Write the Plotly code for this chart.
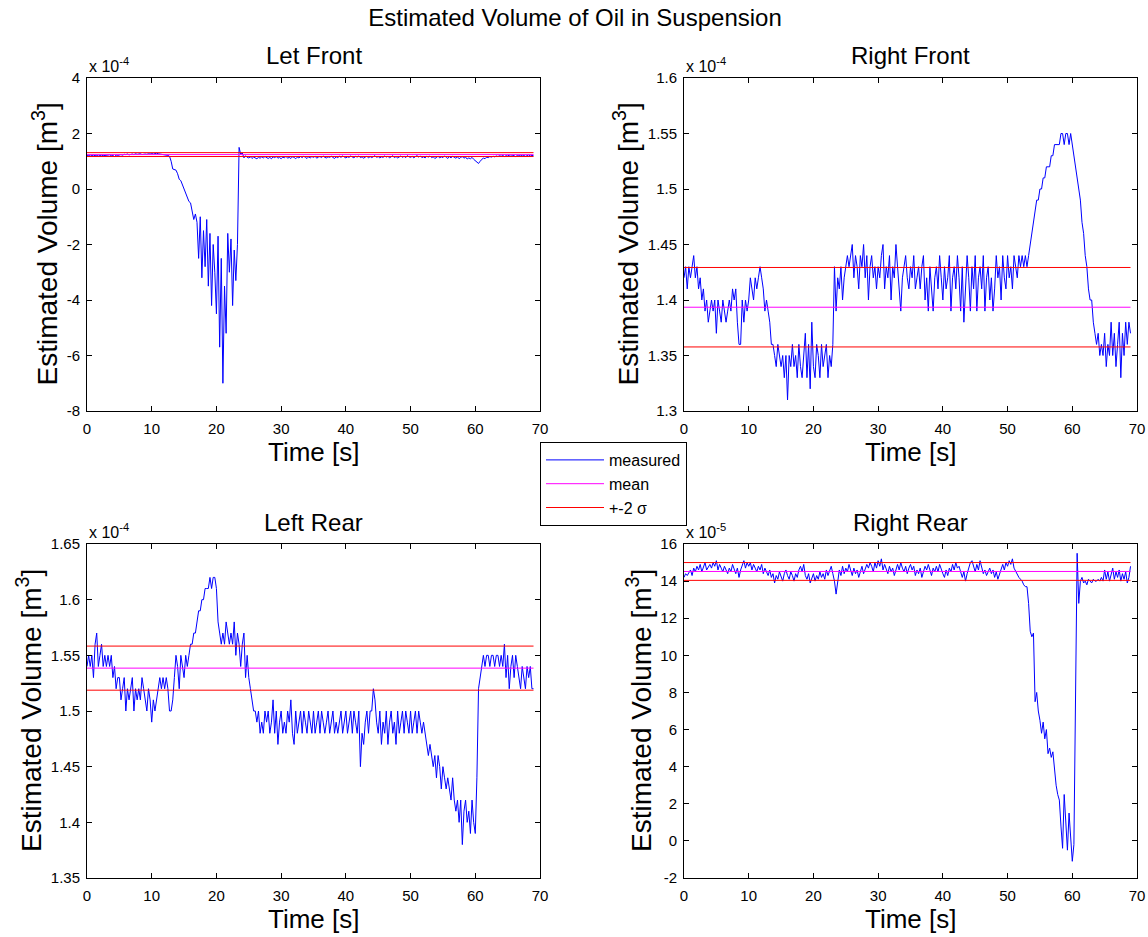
import plotly.graph_objects as go

SAMPLE_DT = 0.25  # seconds between logged samples

# estimated oil volume in each damper, in mL (1 mL = 1e-6 m^3), one value per sample
left_front_ml = [
    120, 121, 119, 121, 122, 120, 121, 119, 121, 122, 120, 121, 122, 121, 123, 120, 121, 117, 122, 121,
    123, 124, 122, 125, 124, 126, 123, 125, 126, 124, 127, 125, 125, 127, 124, 126, 126, 125, 127, 126,
    128, 126, 127, 129, 127, 126, 125, 124, 124, 122, 121, 118, 100, 72, 70, 68, 55, 35, 30, 15,
    5, -10, -30, -45, -50, -75, -110, -90, -120, -250, -100, -320, -150, -280, -110, -350, -160, -420, -200, -300,
    -450, -170, -570, -250, -700, -350, -520, -160, -300, -180, -420, -220, -330, -200, 150, 125, 130, 112, 120, 114,
    112, 116, 110, 115, 113, 109, 114, 111, 116, 112, 117, 113, 110, 114, 109, 116, 113, 117, 111, 114,
    109, 115, 112, 118, 111, 114, 110, 116, 114, 109, 115, 112, 117, 113, 118, 114, 110, 116, 112, 117,
    114, 118, 111, 115, 117, 113, 119, 114, 112, 116, 114, 118, 115, 110, 116, 113, 118, 114, 119, 115,
    112, 116, 114, 119, 116, 112, 118, 115, 119, 113, 116, 111, 115, 118, 112, 117, 113, 116, 120, 114,
    117, 112, 116, 114, 119, 115, 118, 112, 116, 120, 113, 117, 112, 116, 119, 114, 118, 113, 120, 116,
    114, 118, 112, 117, 120, 115, 119, 113, 116, 112, 118, 115, 119, 113, 116, 110, 115, 118, 112, 116,
    113, 119, 115, 110, 117, 112, 118, 114, 111, 116, 109, 114, 117, 111, 115, 108, 112, 109, 114, 107,
    103, 96, 92, 100, 106, 112, 109, 115, 113, 117, 115, 118, 116, 119, 117, 120, 118, 121, 117, 120,
    119, 122, 118, 121, 120, 117, 121, 119, 122, 119, 121, 118, 120, 123, 119, 121, 120,
]
right_front_ml = [
    142, 143, 141, 143, 142, 143, 144, 142, 143, 141, 142, 140, 141, 139, 140, 138, 139, 140, 139, 140,
    137, 140, 139, 138, 140, 139, 138, 139, 140, 139, 141, 140, 141, 138, 136, 136, 140, 138, 140, 139,
    140, 142, 141, 140, 142, 141, 142, 143, 142, 141, 139, 140, 139, 138, 136, 136, 135, 134, 136, 135,
    134, 135, 133, 135, 131, 135, 134, 136, 134, 135, 133, 136, 134, 133, 135, 137, 133, 136, 132, 138,
    134, 133, 136, 135, 133, 136, 134, 135, 136, 133, 135, 134, 136, 143, 139, 142, 141, 143, 140, 142,
    143, 144, 143, 144, 145, 142, 144, 143, 141, 144, 143, 145, 142, 144, 140, 143, 144, 142, 143, 141,
    143, 142, 144, 145, 141, 143, 142, 144, 140, 143, 142, 145, 143, 141, 139, 142, 143, 144, 142, 141,
    143, 142, 144, 141, 142, 143, 141, 143, 144, 140, 142, 139, 143, 141, 139, 142, 143, 141, 144, 142,
    140, 143, 141, 142, 144, 139, 142, 143, 141, 144, 142, 139, 143, 138, 141, 144, 142, 139, 143, 141,
    144, 139, 142, 143, 141, 144, 139, 142, 143, 140, 142, 139, 141, 144, 142, 143, 140, 144, 142, 141,
    144, 142, 143, 141, 144, 143, 142, 144, 143, 144, 143, 144, 143, 144, 145, 146, 147, 148, 149, 149,
    150, 150, 151, 151, 152, 152, 152, 153, 153, 154, 154, 154, 154, 155, 155, 154, 155, 155, 154, 155,
    154, 153, 152, 151, 150, 149, 147, 146, 144, 143, 141, 140, 140, 138, 137, 136, 137, 135, 136, 135,
    137, 134, 136, 135, 138, 135, 137, 134, 136, 138, 133, 137, 135, 138, 136, 138, 137,
]
left_rear_ml = [
    154, 155, 154, 155, 153, 156, 157, 154, 155, 156, 154, 155, 154, 155, 154, 155, 153, 154, 152, 153,
    153, 151, 152, 153, 150, 152, 151, 152, 153, 150, 152, 151, 152, 151, 153, 152, 151, 150, 152, 151,
    149, 151, 150, 151, 152, 153, 152, 153, 152, 153, 152, 150, 150, 151, 153, 155, 154, 152, 155, 154,
    153, 155, 154, 155, 156, 156, 157, 157, 158, 159, 159, 160, 160, 161, 161, 161, 162, 161, 162, 162,
    161, 158, 157, 156, 157, 156, 158, 157, 156, 157, 156, 158, 155, 157, 156, 154, 156, 157, 153, 155,
    153, 152, 151, 150, 150, 149, 150, 148, 149, 148, 150, 149, 150, 148, 149, 151, 148, 150, 147, 149,
    150, 148, 149, 148, 150, 149, 151, 148, 147, 150, 148, 149, 150, 148, 150, 149, 148, 150, 149, 148,
    150, 148, 149, 150, 148, 150, 149, 148, 149, 150, 148, 149, 150, 148, 149, 148, 149, 150, 148, 149,
    150, 148, 149, 150, 148, 150, 149, 148, 150, 145, 148, 147, 149, 150, 148, 150, 150, 152, 151, 149,
    148, 150, 147, 149, 148, 150, 147, 149, 150, 148, 149, 147, 150, 148, 149, 150, 148, 150, 149, 148,
    150, 148, 149, 150, 148, 150, 149, 148, 149, 148, 147, 146, 147, 146, 145, 146, 144, 146, 145, 143,
    145, 144, 143, 144, 143, 142, 144, 142, 141, 142, 140, 142, 138, 141, 142, 140, 141, 139, 142, 140,
    139, 144, 152, 153, 154, 155, 154, 155, 155, 154, 155, 155, 154, 155, 155, 154, 155, 154, 156, 153,
    155, 152, 154, 155, 153, 155, 154, 153, 152, 154, 153, 152, 154, 153, 154, 152, 152,
]
right_rear_ml = [
    142, 144, 143, 145, 146, 143, 147, 145, 148, 146, 149, 145, 147, 150, 146, 148, 149, 147, 150, 148,
    151, 146, 149, 147, 145, 148, 146, 144, 147, 145, 149, 146, 144, 147, 142, 146, 149, 151, 147, 150,
    148, 150, 146, 149, 147, 145, 148, 146, 149, 144, 147, 145, 143, 146, 142, 144, 139, 143, 141, 145,
    142, 140, 144, 146, 143, 141, 145, 143, 140, 144, 142, 146, 148, 145, 149, 143, 141, 144, 139, 142,
    144, 140, 143, 141, 145, 142, 144, 141, 146, 143, 145, 148, 144, 140, 133, 141, 146, 143, 148, 144,
    147, 145, 149, 146, 143, 147, 144, 146, 142, 145, 148, 144, 146, 149, 147, 150, 148, 145, 150, 147,
    151, 148, 152, 146, 149, 146, 144, 148, 145, 147, 143, 146, 149, 146, 150, 147, 145, 148, 144, 147,
    149, 146, 148, 143, 146, 144, 147, 142, 145, 148, 146, 149, 146, 143, 147, 145, 148, 145, 149, 146,
    144, 142, 146, 143, 147, 145, 149, 146, 150, 147, 148, 145, 142, 145, 140, 144, 147, 150, 151, 148,
    145, 149, 146, 151, 148, 144, 146, 143, 145, 147, 144, 146, 142, 145, 141, 144, 147, 149, 146, 150,
    148, 151, 149, 152, 147, 145, 144, 142, 141, 140, 138, 137, 137, 128, 113, 110, 112, 75, 80, 70,
    65, 58, 64, 55, 60, 47, 50, 45, 48, 38, 30, 25, 22, 8, -4, 25, 12, -5, 15, 2,
    -11, -2, 96, 155, 128, 140, 142, 139, 140, 138, 141, 140, 139, 141, 140, 140, 141, 140, 142, 140,
    146, 141, 145, 140, 144, 147, 141, 145, 142, 146, 140, 144, 141, 145, 139, 142, 148,
]

wheel_titles = ["Let Front", "Right Front", "Left Rear", "Right Rear"]
# mean and 2-sigma half-width of each damper's estimate (mL)
mean_ml = [124.0, 139.35, 153.85, 145.2]
two_sigma_ml = [7.0, 3.58, 1.98, 4.8]

# y tick labels, and the power of ten printed above each axis
lf_ticks = ["-8", "-6", "-4", "-2", "0", "2", "4"]
rf_ticks = ["1.3", "1.35", "1.4", "1.45", "1.5", "1.55", "1.6"]
lr_ticks = ["1.35", "1.4", "1.45", "1.5", "1.55", "1.6", "1.65"]
rr_ticks = ["-2", "0", "2", "4", "6", "8", "10", "12", "14", "16"]
tick_exponents = [-4, -4, -4, -5]
time_ticks = [0, 10, 20, 30, 40, 50, 60, 70]

FONT = "Liberation Sans, Arial, sans-serif"
W, H = 1148, 937
X_DOM = [(87 / W, 540 / W), (684 / W, 1137 / W)]
Y_DOM = [(1 - 411 / H, 1 - 78 / H), (1 - 878 / H, 1 - 544 / H)]
YLABEL_GAP = [41, 57, 58, 45]  # px from axis to centre of the y label

series = [left_front_ml, right_front_ml, left_rear_ml, right_rear_ml]
tick_sets = [lf_ticks, rf_ticks, lr_ticks, rr_ticks]

fig = go.Figure()
layout = {}
annotations = []

for i, (title, vals, ticks, exp) in enumerate(zip(wheel_titles, series, tick_sets, tick_exponents)):
    sfx = "" if i == 0 else str(i + 1)
    xd = X_DOM[i % 2]
    yd = Y_DOM[i // 2]
    t = [k * SAMPLE_DT for k in range(len(vals))]
    y = [v * 1e-6 for v in vals]
    span = [t[0], t[-1]]
    m = mean_ml[i] * 1e-6
    s = two_sigma_ml[i] * 1e-6
    first = i == 0

    fig.add_trace(go.Scatter(
        x=t, y=y, mode="lines", name="measured",
        showlegend=first, line=dict(color="#0000FF", width=1),
        xaxis="x" + sfx, yaxis="y" + sfx
    ))
    fig.add_trace(go.Scatter(
        x=span, y=[m, m], mode="lines", name="mean",
        showlegend=first, line=dict(color="#FF00FF", width=1),
        xaxis="x" + sfx, yaxis="y" + sfx
    ))
    fig.add_trace(go.Scatter(
        x=span, y=[m + s, m + s], mode="lines", name="+-2 σ",
        showlegend=first, line=dict(color="#FF0000", width=1),
        xaxis="x" + sfx, yaxis="y" + sfx
    ))
    fig.add_trace(go.Scatter(
        x=span, y=[m - s, m - s], mode="lines", name="+-2 σ",
        showlegend=False, line=dict(color="#FF0000", width=1),
        xaxis="x" + sfx, yaxis="y" + sfx
    ))

    common = dict(
        showline=True, linecolor="black", linewidth=1, mirror="allticks",
        ticks="inside", ticklen=5, tickcolor="black", showgrid=False, zeroline=False,
        automargin=False, tickfont=dict(family=FONT, size=15, color="black")
    )
    tickvals = [float(v) * 10 ** exp for v in ticks]
    layout["xaxis" + sfx] = dict(
        domain=list(xd), anchor="y" + sfx, range=[time_ticks[0], time_ticks[-1]],
        tickvals=time_ticks, ticklabelstandoff=4, **common
    )
    layout["yaxis" + sfx] = dict(
        domain=list(yd), anchor="x" + sfx, range=[tickvals[0], tickvals[-1]],
        tickvals=tickvals, ticktext=ticks, ticklabelstandoff=3, **common
    )

    xc = (xd[0] + xd[1]) / 2
    annotations += [
        dict(text=title, x=xc, y=yd[1] + 22 / H, xref="paper", yref="paper",
             xanchor="center", yanchor="middle", showarrow=False,
             font=dict(family=FONT, size=24, color="black")),
        dict(text=f"x 10<sup>{exp}</sup>", x=xd[0], y=yd[1] + 13 / H, xref="paper", yref="paper",
             xanchor="left", yanchor="middle", showarrow=False,
             font=dict(family=FONT, size=16, color="black")),
        dict(text="Time [s]", x=xc, y=yd[0] - 41 / H, xref="paper", yref="paper",
             xanchor="center", yanchor="middle", showarrow=False,
             font=dict(family=FONT, size=26, color="black")),
        dict(text="Estimated Volume [m<sup>3</sup>]", x=xd[0] - YLABEL_GAP[i] / W, y=(yd[0] + yd[1]) / 2,
             xref="paper", yref="paper", xanchor="center", yanchor="middle", textangle=-90,
             showarrow=False, font=dict(family=FONT, size=28, color="black")),
    ]

fig.update_layout(
    width=W, height=H,
    margin=dict(l=0, r=0, t=0, b=0),
    paper_bgcolor="white", plot_bgcolor="white",
    title=dict(text="Estimated Volume of Oil in Suspension", x=575 / W, xanchor="center",
               y=1 - 18 / H, yanchor="middle", automargin=False,
               font=dict(family=FONT, size=24, color="black")),
    legend=dict(x=540 / W, y=1 - 442 / H, xanchor="left", yanchor="top",
                bgcolor="white", bordercolor="black", borderwidth=1, tracegroupgap=0,
                font=dict(family=FONT, size=16, color="black"), itemwidth=58),
    annotations=annotations,
    **layout
)

# drop the browser's default page margin so the 1148x937 figure fills the window exactly
fig.write_html("out.html", config={"displayModeBar": False},
               post_script="document.body.style.margin = '0';")
